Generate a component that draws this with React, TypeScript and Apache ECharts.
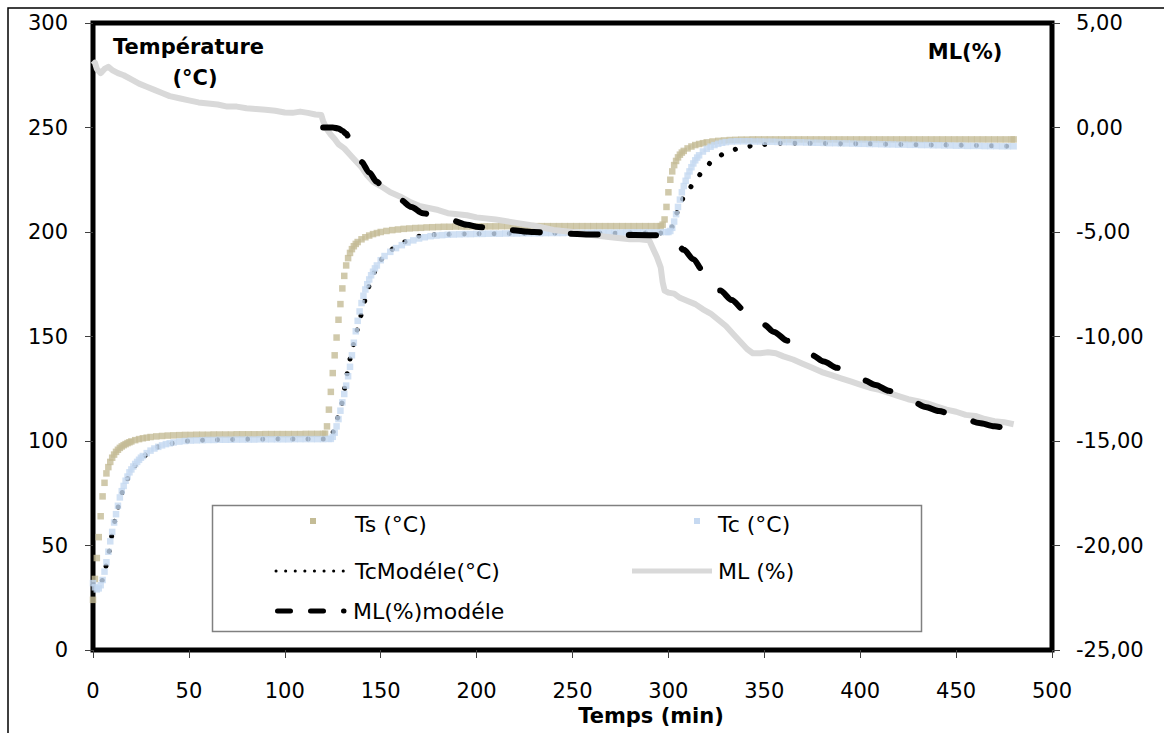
import React, { useEffect, useRef } from "react";
import * as echarts from "echarts";

// Temps (min) on x; Ts / Tc in °C (left axis)
const tsData: number[][] = [
  [0, 24], [1, 34], [2, 44], [3, 54], [4, 64], [5, 73.5], [6, 80], [7, 84.5], [8, 87.5], [9, 90], [10, 92],
  [11, 93.5], [12, 94.8], [13, 95.8], [14, 96.7], [15, 97.4], [16, 98], [17, 98.5], [18, 99], [19, 99.4],
  [20, 99.8], [22, 100.4], [24, 100.9], [26, 101.3], [28, 101.6], [30, 101.9], [33, 102.2], [36, 102.4],
  [39, 102.6], [42, 102.7], [45, 102.8], [48, 102.9], [51, 102.9], [54, 103], [57, 103], [60, 103], [63, 103.1],
  [66, 103.1], [69, 103.1], [72, 103.1], [75, 103.2], [78, 103.2], [81, 103.2], [84, 103.2], [87, 103.2],
  [90, 103.3], [93, 103.3], [96, 103.3], [99, 103.3], [102, 103.3], [105, 103.3], [108, 103.3], [111, 103.4],
  [114, 103.4], [117, 103.4], [120, 103.4], [121, 103.5],
  [122, 107], [123, 115], [124, 123.5], [125, 132.5], [126, 141], [127, 149.5], [128, 158], [129, 165.5],
  [130, 173], [131, 179], [132, 184], [133, 187.5], [134, 190], [135, 191.8], [136, 193.2], [137, 194.3],
  [138, 195.2], [140, 196.5], [142, 197.5], [144, 198.3], [146, 199], [148, 199.5], [150, 200], [153, 200.5],
  [156, 200.9], [159, 201.2], [162, 201.5], [165, 201.7], [168, 201.9], [171, 202], [174, 202.2], [177, 202.3],
  [180, 202.4], [183, 202.5], [186, 202.5], [189, 202.6], [192, 202.6], [195, 202.6], [198, 202.7], [201, 202.7],
  [204, 202.7], [207, 202.7], [210, 202.7], [213, 202.8], [216, 202.8], [219, 202.8], [222, 202.8], [225, 202.8],
  [228, 202.8], [231, 202.8], [234, 202.8], [237, 202.8], [240, 202.8], [243, 202.8], [246, 202.8], [249, 202.8],
  [252, 202.8], [255, 202.8], [258, 202.8], [261, 202.8], [264, 202.8], [267, 202.8], [270, 202.8], [273, 202.8],
  [276, 202.8], [279, 202.8], [282, 202.8], [285, 202.8], [288, 202.8], [291, 202.8], [294, 202.8], [296, 202.8],
  [297, 203.5], [298, 206], [299, 212], [300, 219], [301, 225], [302, 229], [303, 232], [304, 234], [305, 235.7],
  [306, 237], [307, 238], [308, 238.8], [310, 240], [312, 240.9], [314, 241.6], [316, 242.1], [318, 242.5],
  [320, 242.9], [323, 243.3], [326, 243.6], [329, 243.8], [332, 244], [335, 244.1], [338, 244.2], [341, 244.2],
  [344, 244.3], [347, 244.3], [350, 244.3], [353, 244.3], [356, 244.3], [359, 244.3], [362, 244.3], [365, 244.3],
  [368, 244.3], [371, 244.3], [374, 244.3], [377, 244.3], [380, 244.3], [383, 244.3], [386, 244.3], [389, 244.3],
  [392, 244.3], [395, 244.3], [398, 244.3], [401, 244.3], [404, 244.3], [407, 244.3], [410, 244.3], [413, 244.3],
  [416, 244.3], [419, 244.3], [422, 244.3], [425, 244.3], [428, 244.3], [431, 244.3], [434, 244.3], [437, 244.3],
  [440, 244.3], [443, 244.3], [446, 244.3], [449, 244.3], [452, 244.3], [455, 244.3], [458, 244.3], [461, 244.3],
  [464, 244.3], [467, 244.3], [470, 244.3], [473, 244.3], [476, 244.3], [479, 244.3], [480, 244.3],
];

const tcData: number[][] = [
  [0, 32], [1, 30], [2, 29], [3, 29.5], [4, 31], [5, 33.5], [6, 37.5], [7, 42], [8, 47], [9, 52], [10, 56.5],
  [11, 61], [12, 65], [13, 69], [14, 73], [15, 76], [16, 78.5], [17, 81], [18, 83], [19, 85], [20, 86.4],
  [21, 87.8], [22, 89], [23, 90], [24, 91], [25, 92], [26, 92.8], [28, 94.2], [30, 95.4], [32, 96.4], [34, 97.2],
  [36, 97.9], [38, 98.5], [40, 98.9], [42, 99.3], [45, 99.7], [48, 100], [51, 100.2], [54, 100.3], [57, 100.4],
  [60, 100.5], [63, 100.5], [66, 100.6], [69, 100.6], [72, 100.6], [75, 100.7], [78, 100.7], [81, 100.7],
  [84, 100.7], [87, 100.8], [90, 100.8], [93, 100.8], [96, 100.8], [99, 100.8], [102, 100.8], [105, 100.9],
  [108, 100.9], [111, 100.9], [114, 100.9], [117, 100.9], [120, 100.9], [123, 101],
  [124, 101], [125, 102], [126, 104], [127, 107], [128, 110.5], [129, 114.5], [130, 118.5], [131, 122.5],
  [132, 126.5], [133, 131], [134, 135.5], [135, 141], [136, 147], [137, 152.5], [138, 157.5], [139, 162],
  [140, 166], [141, 169.5], [142, 172.5], [143, 175], [144, 177.3], [145, 179.3], [146, 181], [147, 182.6],
  [148, 184], [150, 186.5], [152, 188.5], [155, 190.5], [158, 192.3], [161, 193.7], [164, 195], [167, 196],
  [170, 196.9], [173, 197.5], [176, 198], [179, 198.3], [182, 198.5], [185, 198.7], [188, 198.8], [191, 198.9],
  [194, 199], [197, 199], [200, 199.1], [203, 199.1], [206, 199.2], [209, 199.2], [212, 199.2], [215, 199.3],
  [218, 199.3], [221, 199.3], [224, 199.4], [227, 199.4], [230, 199.4], [233, 199.4], [236, 199.5], [239, 199.5],
  [242, 199.5], [245, 199.5], [248, 199.6], [251, 199.6], [254, 199.6], [257, 199.6], [260, 199.6], [263, 199.7],
  [266, 199.7], [269, 199.7], [272, 199.7], [275, 199.7], [278, 199.8], [281, 199.8], [284, 199.8], [287, 199.8],
  [290, 199.8], [293, 199.8], [296, 199.9], [299, 200], [300, 200],
  [301, 200.5], [302, 202], [303, 205], [304, 208.5], [305, 212], [306, 215.5], [307, 219], [308, 222],
  [309, 224.5], [310, 227], [311, 229], [312, 231], [313, 232.8], [314, 234.3], [315, 235.6], [316, 236.7],
  [318, 238.5], [320, 239.8], [322, 240.8], [324, 241.6], [326, 242.2], [328, 242.7], [330, 243], [333, 243.3],
  [336, 243.4], [339, 243.4], [342, 243.4], [345, 243.3], [348, 243.3], [351, 243.2], [354, 243.2], [357, 243.1],
  [360, 243], [363, 243], [366, 242.9], [369, 242.9], [372, 242.8], [375, 242.7], [378, 242.7], [381, 242.6],
  [384, 242.5], [387, 242.5], [390, 242.4], [393, 242.4], [396, 242.3], [399, 242.2], [402, 242.2], [405, 242.1],
  [408, 242.1], [411, 242], [414, 241.9], [417, 241.9], [420, 241.8], [423, 241.8], [426, 241.7], [429, 241.7],
  [432, 241.6], [435, 241.6], [438, 241.5], [441, 241.5], [444, 241.4], [447, 241.4], [450, 241.3], [453, 241.3],
  [456, 241.2], [459, 241.2], [462, 241.2], [465, 241.1], [468, 241.1], [471, 241.1], [474, 241], [477, 241],
  [480, 241],
];

const tcModelData: number[][] = [
  [0, 31], [2, 29.5], [4, 31], [6, 37], [8, 46], [10, 55], [12, 64], [14, 71.5], [16, 77.5], [18, 82],
  [20, 85.5], [23, 89.5], [26, 92.5], [30, 95.2], [35, 97.5], [40, 98.8], [50, 100], [60, 100.5], [80, 100.8],
  [100, 101], [124, 101], [125, 104], [127, 110], [129, 115], [130, 118.5], [132, 129], [133, 135], [135, 143.5],
  [137, 151], [139, 158], [141, 165], [143, 172], [145, 177], [147, 181], [149, 184.5], [151, 187.5], [154, 190.5],
  [158, 193], [162, 195.2], [166, 197], [170, 198], [180, 198.8], [200, 199.2], [250, 199.4], [300, 199.5],
  [302, 202.5], [305, 210], [308, 216.5], [310, 219.5], [313, 223], [318, 229], [323, 234], [330, 238],
  [338, 240.4], [347, 241.8], [360, 242.5], [400, 242.2], [440, 241.6], [480, 241],
];

// ML (%) on right axis
const mlData: number[][] = [
  [0, 3.0], [1, 3.1], [2, 2.8], [4, 2.6], [6, 2.8], [8, 2.9], [10, 2.75], [13, 2.6], [16, 2.5], [20, 2.3],
  [24, 2.1], [28, 1.95], [32, 1.8], [36, 1.65], [40, 1.5], [45, 1.4], [50, 1.3], [55, 1.2], [60, 1.15],
  [65, 1.1], [70, 1.0], [75, 1.0], [80, 0.92], [85, 0.88], [90, 0.85], [95, 0.8], [100, 0.72], [104, 0.7],
  [108, 0.76], [112, 0.7], [116, 0.62], [119, 0.6], [120, 0.3], [122, -0.1], [124, -0.35], [126, -0.55],
  [128, -0.8], [131, -1.0], [134, -1.3], [137, -1.6], [140, -1.9], [143, -2.3], [146, -2.6], [150, -2.8],
  [155, -3.1], [160, -3.3], [165, -3.55], [170, -3.75], [175, -3.85], [180, -3.95], [185, -4.1], [190, -4.15],
  [195, -4.2], [200, -4.3], [210, -4.4], [220, -4.55], [230, -4.7], [240, -4.9], [250, -5.0], [260, -5.15],
  [270, -5.25], [280, -5.35], [285, -5.35], [290, -5.4], [292, -5.8], [294, -6.2], [296, -6.7], [297, -7.4],
  [298, -7.8], [300, -7.9], [303, -7.95], [306, -8.15], [310, -8.3], [314, -8.45], [318, -8.7], [322, -8.9],
  [326, -9.2], [330, -9.5], [334, -9.9], [338, -10.3], [341, -10.6], [344, -10.8], [348, -10.8], [352, -10.75],
  [356, -10.8], [360, -10.95], [365, -11.1], [370, -11.3], [375, -11.5], [380, -11.7], [385, -11.85],
  [390, -12.0], [395, -12.15], [400, -12.3], [405, -12.45], [410, -12.55], [415, -12.7], [420, -12.85],
  [425, -13.0], [430, -13.1], [435, -13.2], [440, -13.35], [445, -13.5], [450, -13.6], [455, -13.75],
  [460, -13.8], [465, -13.95], [470, -14.05], [475, -14.1], [480, -14.2],
];

const mlModelData: number[][] = [
  [120, 0], [125, 0], [128, -0.05], [130, -0.15], [132, -0.3], [134, -0.6], [136, -1.0], [138, -1.35],
  [140, -1.65], [144, -2.15], [148, -2.6], [152, -3.0], [156, -3.2], [160, -3.45], [166, -3.8], [172, -4.1],
  [180, -4.3], [187, -4.45], [195, -4.65], [201, -4.76], [210, -4.85], [216, -4.9], [230, -5.0], [245, -5.07],
  [260, -5.12], [275, -5.14], [290, -5.15], [298, -5.16], [300, -5.2], [303, -5.4], [308, -5.85], [313, -6.3],
  [318, -6.85], [322, -7.3], [327, -7.8], [333, -8.25], [339, -8.7], [345, -9.1], [350, -9.45], [355, -9.78],
  [362, -10.2], [369, -10.55], [375, -10.9], [381, -11.2], [388, -11.5], [395, -11.82], [402, -12.1],
  [408, -12.32], [415, -12.6], [422, -12.9], [428, -13.15], [434, -13.37], [441, -13.57], [449, -13.77],
  [455, -13.95], [462, -14.14], [470, -14.3], [480, -14.5],
];

const seriesNames = ["Ts (°C)", "Tc (°C)", "TcModéle(°C)", "ML (%)", "ML(%)modéle"];
const tsColor = "#C4BC96";
const tcColor = "#C6D9F1";
const mlColor = "#D9D9D9";

const FONT = '"DejaVu Sans", "Liberation Sans", Arial, sans-serif';

function txt(x: number, y: number, text: string, size: number, bold: boolean, align = "left") {
  return {
    type: "text",
    x,
    y,
    z: 100,
    silent: true,
    style: {
      text,
      font: `${bold ? "bold " : ""}${size}px ${FONT}`,
      fill: "#000",
      textAlign: align,
      align,
      textVerticalAlign: "middle",
      verticalAlign: "middle",
    },
  };
}

export default function App() {
  const ref = useRef<HTMLDivElement>(null);
  useEffect(() => {
    document.body.style.margin = "0";
    const chart = echarts.init(ref.current!, null, { renderer: "svg" });
    const axisLabel = { color: "#000", fontSize: 21, fontFamily: FONT };
    const tick = { show: true, length: 8, lineStyle: { color: "#404040", width: 1 } };
    chart.setOption({
      animation: false,
      backgroundColor: "#fff",
      grid: {
        left: 93, right: 112, top: 23, bottom: 83,
        show: true, borderColor: "#000", borderWidth: 5, backgroundColor: "transparent",
      },
      xAxis: {
        type: "value", min: 0, max: 500, interval: 50,
        axisLine: { show: false }, axisTick: tick, splitLine: { show: false },
        axisLabel: { ...axisLabel, margin: 30 },
      },
      yAxis: [
        {
          type: "value", min: 0, max: 300, interval: 50, position: "left",
          axisLine: { show: false }, axisTick: tick, splitLine: { show: false },
          axisLabel: { ...axisLabel, margin: 25 },
        },
        {
          type: "value", min: -25, max: 5, interval: 5, position: "right",
          axisLine: { show: false }, axisTick: tick, splitLine: { show: false },
          axisLabel: {
            ...axisLabel, margin: 24,
            formatter: (v: number) => v.toFixed(2).replace(".", ","),
          },
        },
      ],
      series: [
        {
          name: seriesNames[0], type: "scatter", data: tsData, yAxisIndex: 0, z: 2,
          symbol: "rect", symbolSize: 6.5, itemStyle: { color: tsColor },
        },
        {
          name: seriesNames[2], type: "line", data: tcModelData, yAxisIndex: 0, z: 3,
          showSymbol: false, smooth: 0.3, smoothMonotone: "x",
          lineStyle: { color: "#000", width: 5, type: [0.1, 15], cap: "round" },
        },
        {
          name: seriesNames[1], type: "scatter", data: tcData, yAxisIndex: 0, z: 4,
          symbol: "rect", symbolSize: 6.5, itemStyle: { color: tcColor },
        },
        {
          name: seriesNames[3], type: "line", data: mlData, yAxisIndex: 1, z: 5,
          showSymbol: false, lineStyle: { color: mlColor, width: 6, join: "round" },
        },
        {
          name: seriesNames[4], type: "line", data: mlModelData, yAxisIndex: 1, z: 6,
          showSymbol: false, smooth: 0.3, smoothMonotone: "x",
          lineStyle: { color: "#000", width: 6, type: [27, 31], cap: "round" },
        },
      ],
      graphic: [
        {
          type: "rect", z: 1, silent: true,
          shape: { x: 8, y: 8, width: 1400, height: 1000 },
          style: { fill: "none", stroke: "#000", lineWidth: 1.5 },
        },
        txt(113, 47, "Température", 21, true),
        txt(195, 78, "(°C)", 21, true, "center"),
        txt(965, 52, "ML(%)", 21, true, "center"),
        txt(651, 716, "Temps (min)", 21, true, "center"),
        {
          type: "rect", z: 90, silent: true,
          shape: { x: 212.5, y: 505.5, width: 709, height: 126 },
          style: { fill: "#fff", stroke: "#808080", lineWidth: 1.5 },
        },
        {
          type: "rect", z: 100, silent: true,
          shape: { x: 310, y: 518, width: 6, height: 6 },
          style: { fill: tsColor },
        },
        txt(355, 524, seriesNames[0], 22, false),
        {
          type: "rect", z: 100, silent: true,
          shape: { x: 694, y: 518, width: 6, height: 6 },
          style: { fill: tcColor },
        },
        txt(718, 524, seriesNames[1], 22, false),
        {
          type: "line", z: 100, silent: true,
          shape: { x1: 276, y1: 571, x2: 346, y2: 571 },
          style: { stroke: "#000", lineWidth: 3, lineDash: [0.1, 9.5], lineCap: "round" },
        },
        txt(355, 571, seriesNames[2], 22, false),
        {
          type: "line", z: 100, silent: true,
          shape: { x1: 632, y1: 571, x2: 712, y2: 571 },
          style: { stroke: mlColor, lineWidth: 5 },
        },
        txt(718, 571, seriesNames[3], 22, false),
        {
          type: "line", z: 100, silent: true,
          shape: { x1: 277.5, y1: 611, x2: 344, y2: 611 },
          style: { stroke: "#000", lineWidth: 5, lineDash: [13, 20], lineCap: "round" },
        },
        txt(353, 611, seriesNames[4], 22, false),
      ],
    });
    return () => chart.dispose();
  }, []);
  return <div ref={ref} style={{ width: 1164, height: 733 }} />;
}
